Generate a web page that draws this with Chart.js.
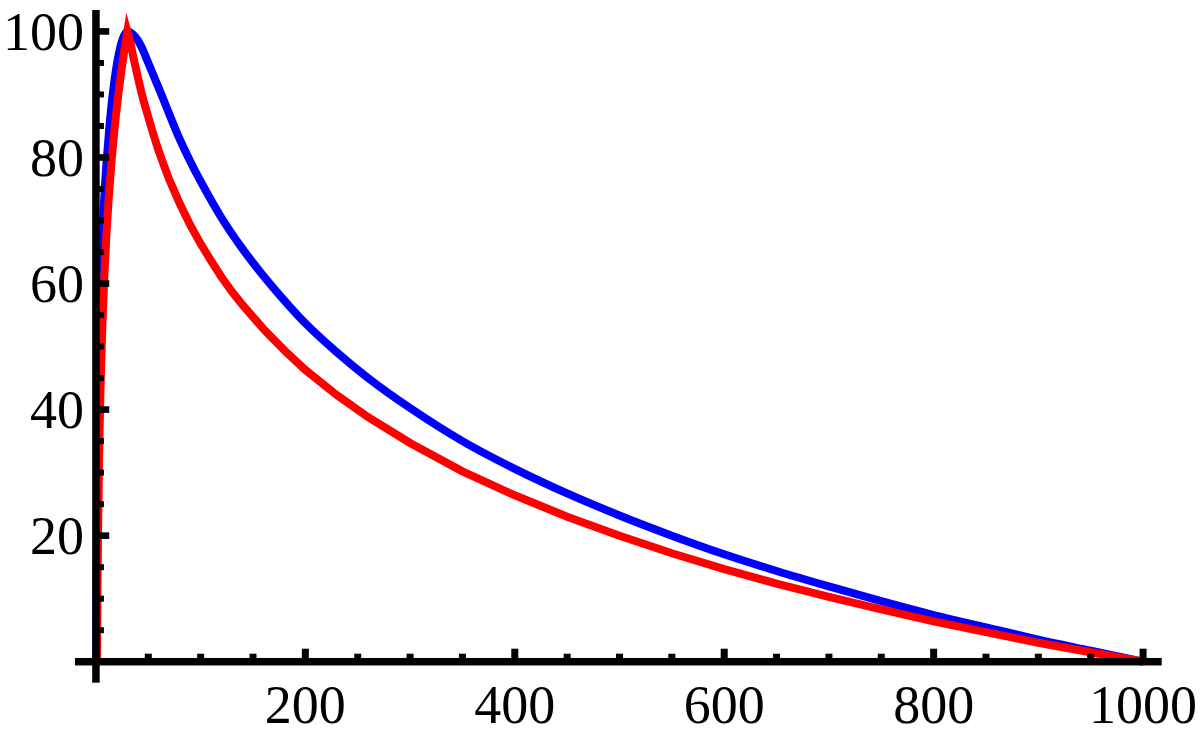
<!DOCTYPE html>
<html>
<head>
<meta charset="utf-8">
<script src="https://cdn.jsdelivr.net/npm/chart.js@4"></script>
<style>
  html, body { margin: 0; padding: 0; background: #fff; }
  #wrap { width: 1200px; height: 737px; position: relative; }
</style>
</head>
<body>
<div id="wrap"><canvas id="c"></canvas></div>
<script>
// ---- data ----
const redX = [1, 1.5, 2, 3, 4, 5, 6, 8, 10, 12, 15, 18, 21, 24, 27, 30, 33, 36, 40, 45, 50, 55, 60, 65, 70, 80, 90, 100, 110, 120, 130, 140, 160, 180, 200, 230, 260, 300, 350, 400, 450, 500, 550, 600, 650, 700, 750, 800, 850, 900, 950, 1000];
const redY = [0, 11.9, 20.4, 32.3, 40.8, 47.3, 52.7, 61.1, 67.7, 73.1, 79.6, 85.0, 89.5, 93.4, 96.9, 100, 98.2, 95.7, 92.7, 89.3, 86.4, 83.6, 81.0, 78.7, 76.5, 72.7, 69.3, 66.3, 63.6, 61.0, 58.7, 56.6, 52.8, 49.4, 46.3, 42.3, 38.8, 34.7, 30.2, 26.4, 23.0, 20.0, 17.2, 14.7, 12.4, 10.3, 8.3, 6.4, 4.7, 3.0, 1.5, 0];

const blueX = [0.3, 0.6, 1, 2, 3, 4, 5, 6, 7, 8.5, 10, 13, 16, 20, 24, 27, 30, 35, 40, 45, 50, 60, 70, 80, 90, 100, 120, 140, 160, 180, 200, 230, 260, 300, 350, 400, 450, 500, 550, 600, 650, 700, 750, 800, 850, 900, 950, 1000];
const blueY = [0, 12, 25, 42, 51.5, 58, 63, 67.2, 70.7, 75.3, 79, 85.2, 90, 94.8, 98, 99.4, 100, 99.6, 98.6, 97.0, 95.0, 91.0, 86.9, 82.9, 79.4, 76.2, 70.4, 65.5, 61.2, 57.3, 53.7, 49.1, 45.0, 40.25, 35.0, 30.6, 26.7, 23.2, 20.0, 17.05, 14.4, 11.95, 9.6, 7.4, 5.45, 3.5, 1.75, 0];

const xMajorTicks = [200, 400, 600, 800, 1000];
const xTickLabels = ["200", "400", "600", "800", "1000"];
const xMinorTicks = [50, 100, 150, 250, 300, 350, 450, 500, 550, 650, 700, 750, 850, 900, 950];
const yMajorTicks = [20, 40, 60, 80, 100];
const yTickLabels = ["20", "40", "60", "80", "100"];
const yMinorTicks = [5, 10, 15, 25, 30, 35, 45, 50, 55, 65, 70, 75, 85, 90, 95];

const toPts = (xs, ys) => xs.map((x, i) => ({ x: x, y: ys[i] }));

const axesPlugin = {
  id: 'mmaAxes',
  afterDatasetsDraw(chart) {
    const ctx = chart.ctx;
    const xs = chart.scales.x, ys = chart.scales.y;
    const ca = chart.chartArea;
    const x0 = xs.getPixelForValue(0);
    const y0 = ys.getPixelForValue(0);
    ctx.save();
    ctx.fillStyle = '#000';
    // axis lines
    const aw = 7.5;
    ctx.fillRect(ca.left, y0 - aw / 2, ca.right - ca.left, aw);
    ctx.fillRect(x0 - aw / 2, ca.top, aw, ca.bottom - ca.top);
    // x ticks (pointing up)
    xMajorTicks.forEach(v => {
      const px = xs.getPixelForValue(v);
      ctx.fillRect(px - 3.5, y0 - 13, 7, 13);
    });
    xMinorTicks.forEach(v => {
      const px = xs.getPixelForValue(v);
      ctx.fillRect(px - 3.5, y0 - 8, 7, 8);
    });
    // y ticks (pointing right)
    yMajorTicks.forEach(v => {
      const py = ys.getPixelForValue(v);
      ctx.fillRect(x0, py - 3.3, 13.3, 6.6);
    });
    yMinorTicks.forEach(v => {
      const py = ys.getPixelForValue(v);
      ctx.fillRect(x0, py - 3, 8, 6);
    });
    // labels
    ctx.font = '54px "Liberation Serif", "DejaVu Serif", serif';
    ctx.textBaseline = 'alphabetic';
    ctx.textAlign = 'center';
    xMajorTicks.forEach((v, i) => {
      ctx.fillText(xTickLabels[i], xs.getPixelForValue(v), y0 + 61.5);
    });
    ctx.textAlign = 'right';
    yMajorTicks.forEach((v, i) => {
      ctx.fillText(yTickLabels[i], x0 - 12, ys.getPixelForValue(v) + 18.3);
    });
    ctx.restore();
  }
};

new Chart(document.getElementById('c'), {
  type: 'scatter',
  data: {
    datasets: [
      {
        label: 'red',
        data: toPts(redX, redY),
        showLine: true,
        borderColor: '#ff0000',
        backgroundColor: '#ff0000',
        borderWidth: 8,
        pointRadius: 0,
        tension: 0,
        borderJoinStyle: 'miter',
        order: 0
      },
      {
        label: 'blue',
        data: toPts(blueX, blueY),
        showLine: true,
        borderColor: '#0000ff',
        backgroundColor: '#0000ff',
        borderWidth: 8,
        pointRadius: 0,
        cubicInterpolationMode: 'monotone',
        order: 1
      }
    ]
  },
  options: {
    responsive: true,
    maintainAspectRatio: false,
    animation: false,
    layout: { padding: { left: 75, right: 38.3, top: 10, bottom: 54.3 } },
    plugins: { legend: { display: false }, tooltip: { enabled: false } },
    scales: {
      x: { type: 'linear', min: -20, max: 1017.8, display: false },
      y: { type: 'linear', min: -3.33, max: 103.4, display: false }
    }
  },
  plugins: [axesPlugin]
});
</script>
</body>
</html>
